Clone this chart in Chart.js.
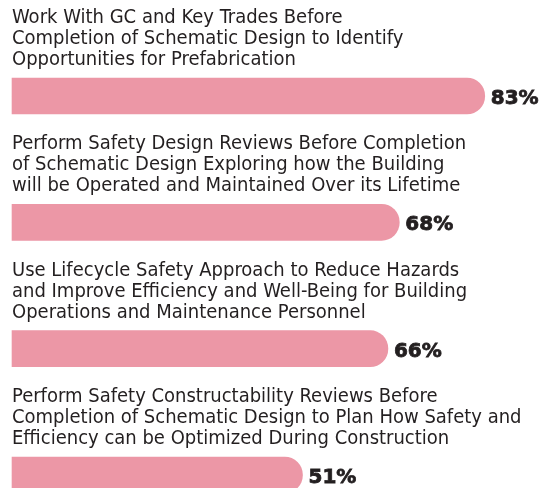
<!DOCTYPE html>
<html>
<head>
<meta charset="utf-8">
<script src="https://cdn.jsdelivr.net/npm/chart.js@4.4.0/dist/chart.umd.min.js"></script>
<style>
  html, body { margin: 0; padding: 0; background: #fff; }
  #wrap { width: 546px; height: 488px; }
</style>
</head>
<body>
<div id="wrap"><canvas id="grafico"></canvas></div>
<script>
// categorias (texto em varias linhas) e valores em %
const categorias = [
  ['Work With GC and Key Trades Before',
   'Completion of Schematic Design to Identify',
   'Opportunities for Prefabrication'],
  ['Perform Safety Design Reviews Before Completion',
   'of Schematic Design Exploring how the Building',
   'will be Operated and Maintained Over its Lifetime'],
  ['Use Lifecycle Safety Approach to Reduce Hazards',
   'and Improve Efficiency and Well-Being for Building',
   'Operations and Maintenance Personnel'],
  ['Perform Safety Constructability Reviews Before',
   'Completion of Schematic Design to Plan How Safety and',
   'Efficiency can be Optimized During Construction']
]
const valores = [83, 68, 66, 51]
const corBarra = '#ec97a6'
const corTexto = '#231f20'

// desenha os titulos acima das barras e o % no fim
const rotulos = {
  id: 'rotulos',
  afterDatasetsDraw(chart) {
    const { ctx, scales } = chart
    const x = scales.x, y = scales.y
    ctx.save()
    ctx.fillStyle = corTexto
    ctx.strokeStyle = corTexto
    ctx.textAlign = 'left'
    ctx.textBaseline = 'alphabetic'
    categorias.forEach((linhas, i) => {
      const cy = y.getPixelForValue(i)
      ctx.font = '20px "DejaVu Sans Condensed", sans-serif'
      linhas.forEach((txt, j) => {
        ctx.fillText(txt, 12, cy - 73 + j * 21)
      })
      ctx.font = 'bold 20px "DejaVu Sans", sans-serif'
      ctx.lineWidth = 0.8
      const px = x.getPixelForValue(valores[i]) + 6
      ctx.fillText(valores[i] + '%', px, cy + 8)
      ctx.strokeText(valores[i] + '%', px, cy + 8)
    })
    ctx.restore()
  }
}

new Chart(document.getElementById('grafico'), {
  type: 'bar',
  data: {
    labels: categorias.map((c, i) => i),
    datasets: [{
      data: valores,
      backgroundColor: corBarra,
      barThickness: 36,
      borderRadius: 18,
      borderSkipped: 'start',
      clip: false
    }]
  },
  options: {
    indexAxis: 'y',
    responsive: true,
    maintainAspectRatio: false,
    animation: false,
    layout: { padding: { left: 12, right: 10, top: 96, bottom: 13 } },
    scales: {
      x: { display: false, min: 0, max: 92 },
      y: { display: false, offset: false }
    },
    plugins: {
      legend: { display: false },
      tooltip: { enabled: false }
    }
  },
  plugins: [rotulos]
})
</script>
</body>
</html>
